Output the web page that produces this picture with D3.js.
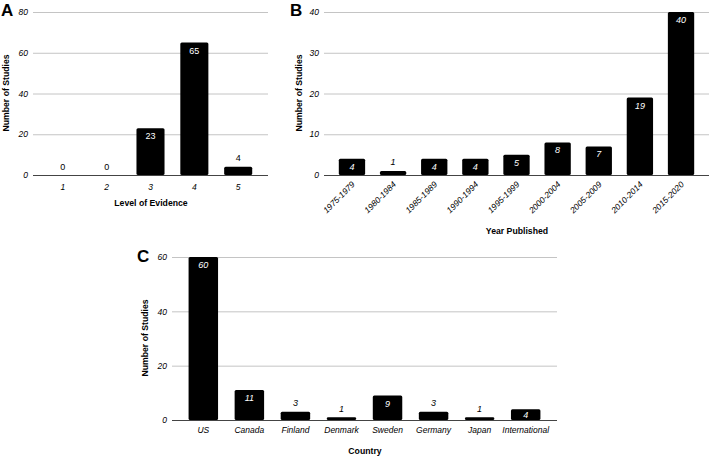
<!DOCTYPE html>
<html><head><meta charset="utf-8">
<script src="https://cdn.jsdelivr.net/npm/d3@7"></script>
<style>
html,body{margin:0;padding:0;background:#fff;}
svg{display:block;font-family:"Liberation Sans",Arial,sans-serif;}
</style></head>
<body>
<svg id="chart" width="710" height="456"></svg>
<script>
// Panel A
const levelCategories = ["1","2","3","4","5"];
const levelValues = [0,0,23,65,4];
const levelTicks = [0,20,40,60,80];
// Panel B
const yearCategories = ["1975-1979","1980-1984","1985-1989","1990-1994","1995-1999","2000-2004","2005-2009","2010-2014","2015-2020"];
const yearValues = [4,1,4,4,5,8,7,19,40];
const yearTicks = [0,10,20,30,40];
// Panel C
const countryCategories = ["US","Canada","Finland","Denmark","Sweden","Germany","Japan","International"];
const countryValues = [60,11,3,1,9,3,1,4];
const countryTicks = [0,20,40,60];

const svg = d3.select("#chart");

function panel(cfg){
  const g = svg.append("g");
  const x = d3.scaleBand().domain(cfg.cats).range([cfg.x0, cfg.x1]).paddingInner(0.36).paddingOuter(0.36);
  const y = d3.scaleLinear().domain([0, cfg.max]).range([cfg.yBottom, cfg.yTop]);
  const tickFmt = d3.format("d");
  const inside = d => (y(0) - y(d)) > 10;

  const yAxis = d3.axisLeft(y).tickValues(cfg.ticks).tickSize(-(cfg.x1 - cfg.x0)).tickPadding(5).tickFormat(tickFmt);
  const ya = g.append("g").attr("transform", `translate(${cfg.x0},0)`).call(yAxis);
  ya.select(".domain").remove();
  ya.selectAll(".tick line").attr("stroke", "#c4c4c4").attr("stroke-width", 1)
    .filter(d => d === 0).attr("stroke", "#444");
  ya.selectAll(".tick text").attr("font-size", 8.5).attr("font-style", "italic")
    .attr("fill", "#000").attr("font-family", "Liberation Sans, Arial, sans-serif");

  g.selectAll("rect.bar").data(cfg.vals).join("rect").attr("class","bar")
    .attr("x", (d,i) => x(cfg.cats[i]))
    .attr("width", x.bandwidth())
    .attr("y", d => y(d))
    .attr("height", d => y(0) - y(d))
    .attr("rx", d => d > 0 ? 1.5 : 0)
    .attr("fill", "#000");

  g.append("line").attr("x1", cfg.x0).attr("x2", cfg.x1)
    .attr("y1", y(0)+0.5).attr("y2", y(0)+0.5).attr("stroke", "#444");

  g.selectAll("text.val").data(cfg.vals).join("text").attr("class","val")
    .attr("x", (d,i) => x(cfg.cats[i]) + x.bandwidth()/2)
    .attr("y", d => inside(d) ? Math.min(y(d) + 11, (y(d) + y(0)) / 2 + 3) : y(d) - 5.5)
    .attr("text-anchor", "middle")
    .attr("font-size", 9)
    .attr("font-style", cfg.valItalic ? "italic" : "normal")
    .attr("fill", d => inside(d) ? "#fff" : "#000")
    .text(d => d);

  const xAxis = d3.axisBottom(x).tickSize(0).tickPadding(0);
  const xa = g.append("g").attr("transform", `translate(0,${cfg.yBottom})`).call(xAxis);
  xa.select(".domain").remove();
  xa.selectAll(".tick text").attr("font-size", 8.5).attr("font-style", "italic").attr("fill","#000")
    .attr("font-family", "Liberation Sans, Arial, sans-serif");
  if (cfg.rotate) {
    xa.selectAll(".tick text")
      .attr("text-anchor", "end").attr("dy", null)
      .attr("transform", "translate(3.5,10) rotate(-45)")
      .attr("y", 0).attr("x", 0);
  } else {
    xa.selectAll(".tick text").attr("dy", null).attr("y", cfg.tickY);
  }

  g.append("text").attr("x", cfg.xTitleX).attr("y", cfg.xTitleY)
    .attr("text-anchor","middle").attr("font-weight","bold").attr("font-size", 8.7).attr("fill","#000")
    .text(cfg.xTitle);
  g.append("text")
    .attr("transform", `translate(${cfg.yTitleX},${cfg.yTitleY}) rotate(-90)`)
    .attr("text-anchor","middle").attr("font-weight","bold").attr("font-size", 8.7).attr("fill","#000")
    .text("Number of Studies");

  g.append("text").attr("x", cfg.letterX).attr("y", cfg.letterY)
    .attr("font-weight","bold").attr("font-size", 17).attr("fill","#000").text(cfg.letter);
}

panel({cats: levelCategories, vals: levelValues, ticks: levelTicks, max: 80,
  x0: 33, x1: 268, yTop: 12, yBottom: 175, valItalic: false, rotate: false, tickY: 14.5,
  xTitle: "Level of Evidence", xTitleX: 151, xTitleY: 205.5, yTitleX: 9, yTitleY: 93,
  letter: "A", letterX: 1, letterY: 16});

panel({cats: yearCategories, vals: yearValues, ticks: yearTicks, max: 40,
  x0: 324, x1: 709, yTop: 12, yBottom: 175, valItalic: true, rotate: true,
  xTitle: "Year Published", xTitleX: 517, xTitleY: 233.5, yTitleX: 302, yTitleY: 93,
  letter: "B", letterX: 290, letterY: 16});

panel({cats: countryCategories, vals: countryValues, ticks: countryTicks, max: 60,
  x0: 172, x1: 557, yTop: 257, yBottom: 420, valItalic: true, rotate: false, tickY: 12.5,
  xTitle: "Country", xTitleX: 365, xTitleY: 453.5, yTitleX: 148, yTitleY: 338,
  letter: "C", letterX: 137, letterY: 262});
</script>
</body></html>
